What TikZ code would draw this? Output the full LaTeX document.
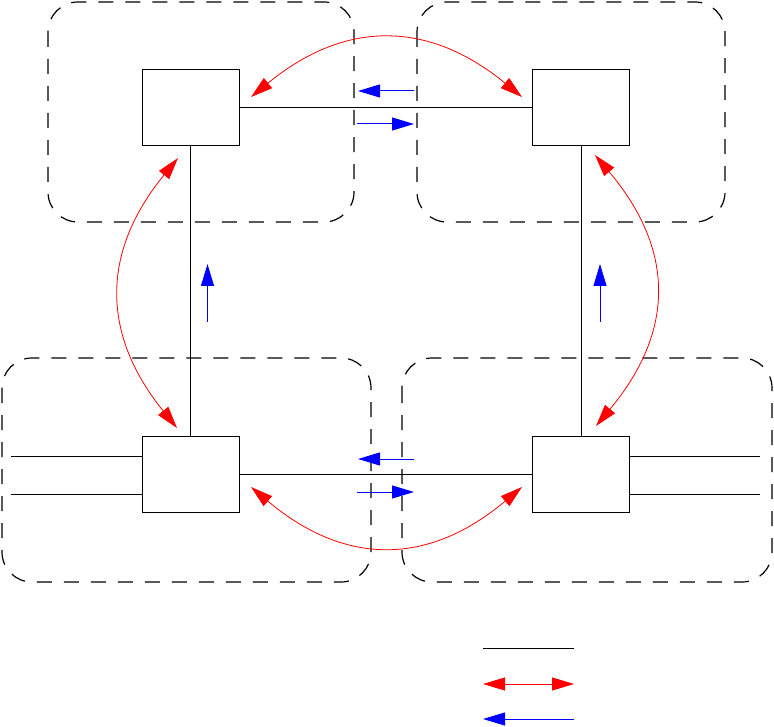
\documentclass[tikz,border=0pt]{standalone}
\usetikzlibrary{arrows.meta}
\begin{document}
\begin{tikzpicture}[x=1pt,y=-1pt,
  unit/.style={draw,line width=1pt,minimum width=97pt,minimum height=76pt,inner sep=0pt},
  zone/.style={draw,line width=1.2pt,dash pattern=on 15pt off 12pt,rounded corners=30pt},
  wire/.style={line width=1pt},
  redarc/.style={red,line width=0.8pt,{Triangle[length=22pt,width=13pt]}-{Triangle[length=22pt,width=13pt]}},
  bluearr/.style={blue,line width=1pt,-{Triangle[length=22pt,width=13pt]}}]
\useasboundingbox (0,0) rectangle (774,727);
% zones
\draw[zone] (48,2) rectangle (354,222);
\draw[zone] (417,2) rectangle (725,222);
\draw[zone] (2,358) rectangle (371,582);
\draw[zone] (402,358) rectangle (772,582);
% units
\node[unit] (tl) at (190.5,108) {};
\node[unit] (tr) at (581,108) {};
\node[unit] (bl) at (190.5,474) {};
\node[unit] (br) at (581,474) {};
% links
\draw[wire] (tl) -- (tr);
\draw[wire] (bl) -- (br);
\draw[wire] (tl) -- (bl);
\draw[wire] (tr) -- (br);
% external lines
\coordinate (e1) at (11,456);
\coordinate (e2) at (11,494);
\coordinate (e3) at (760,456);
\coordinate (e4) at (760,494);
\draw[wire] (e1) -- (e1 -| bl.west);
\draw[wire] (e2) -- (e2 -| bl.west);
\draw[wire] (e3) -- (e3 -| br.east);
\draw[wire] (e4) -- (e4 -| br.east);
% red arcs
\coordinate (ra1) at (251,97);
\coordinate (ra2) at (522,97);
\coordinate (rb1) at (251,487);
\coordinate (rb2) at (522,487);
\coordinate (rl1) at (178,158);
\coordinate (rl2) at (177,428);
\coordinate (rr1) at (595,155);
\coordinate (rr2) at (596,426);
\draw[redarc] (ra1) .. controls (345,20) and (428,20) .. (ra2);
\draw[redarc] (rb1) .. controls (345,566) and (428,566) .. (rb2);
\draw[redarc] (rl1) .. controls (101,252) and (101,334) .. (rl2);
\draw[redarc] (rr1) .. controls (675,250) and (675,331) .. (rr2);
% blue arrows
\coordinate (b1s) at (414,91);
\coordinate (b1e) at (358,91);
\coordinate (b2s) at (357,124);
\coordinate (b2e) at (414,124);
\coordinate (b3s) at (414,459);
\coordinate (b3e) at (358,459);
\coordinate (b4s) at (357,492);
\coordinate (b4e) at (414,492);
\coordinate (b5s) at (207.5,322);
\coordinate (b5e) at (207.5,264);
\coordinate (b6s) at (600,322);
\coordinate (b6e) at (600,264);
\draw[bluearr] (b1s) -- (b1e);
\draw[bluearr] (b2s) -- (b2e);
\draw[bluearr] (b3s) -- (b3e);
\draw[bluearr] (b4s) -- (b4e);
\draw[bluearr] (b5s) -- (b5e);
\draw[bluearr] (b6s) -- (b6e);
% legend
\coordinate (l1a) at (483,648);
\coordinate (l1b) at (574,648);
\coordinate (l2a) at (483,684);
\coordinate (l2b) at (574,684);
\coordinate (l3a) at (574,719);
\coordinate (l3b) at (483,719);
\draw[wire] (l1a) -- (l1b);
\draw[redarc] (l2a) -- (l2b);
\draw[bluearr] (l3a) -- (l3b);
\end{tikzpicture}
\end{document}
